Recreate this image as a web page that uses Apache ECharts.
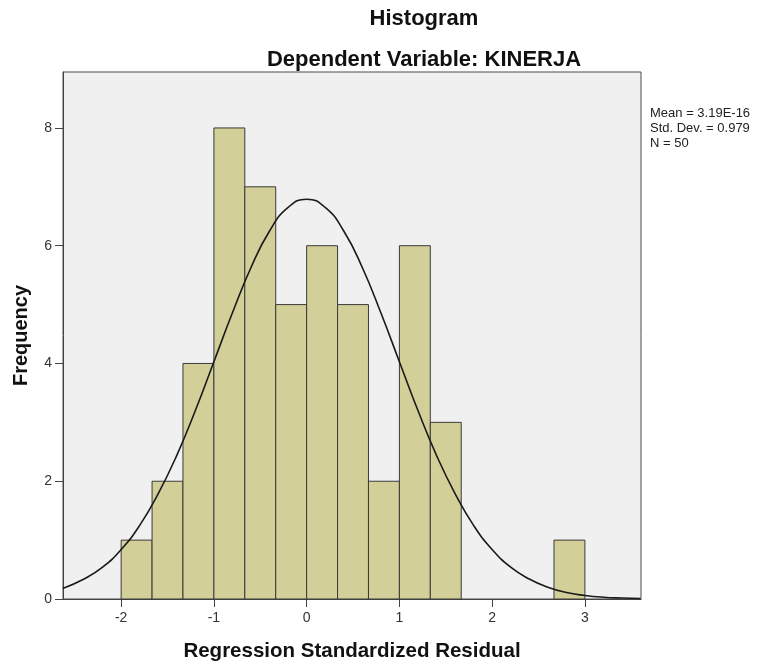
<!DOCTYPE html>
<html><head><meta charset="utf-8">
<script src="https://cdn.jsdelivr.net/npm/echarts@6/dist/echarts.min.js"></script>
<style>html,body{margin:0;padding:0;background:#fff}#c{width:768px;height:664px}</style>
</head><body><div id="c"></div>
<script>
// Histogram bins (left edge, right edge) and frequencies
const binStart = [-2, -5/3, -4/3, -1, -2/3, -1/3, 0, 1/3, 2/3, 1, 4/3, 8/3];
const binEnd   = [-5/3, -4/3, -1, -2/3, -1/3, 0, 1/3, 2/3, 1, 4/3, 5/3, 3];
const counts   = [1, 2, 4, 8, 7, 5, 6, 5, 2, 6, 3, 1];
// Normal curve, values
const curveX = [-2.63,-2.4,-2.2,-2.0,-1.8,-1.6,-1.4,-1.2,-1.0,-0.8,-0.6,-0.4,-0.2,0,0.2,0.4,0.6,0.8,1.0,1.2,1.4,1.6,1.8,2.0,2.2,2.4,2.6,2.8,3.0,3.2,3.4,3.6];
const curveY = [0.18,0.34,0.54,0.84,1.25,1.79,2.44,3.20,4.03,4.86,5.63,6.25,6.65,6.79,6.65,6.25,5.63,4.86,4.03,3.20,2.44,1.79,1.25,0.84,0.54,0.34,0.20,0.11,0.06,0.03,0.016,0.008];
const xTicks = [-2, -1, 0, 1, 2, 3];
const yTicks = [0, 2, 4, 6, 8];
const statsText = ['Mean = 3.19E-16', 'Std. Dev. = 0.979', 'N = 50'];

const chart = echarts.init(document.getElementById('c'), null, {renderer: 'canvas'});
const F = 'Liberation Sans, Arial, sans-serif';
chart.setOption({
  animation: false,
  backgroundColor: '#ffffff',
  title: [
    {text: 'Histogram', left: 419, top: 3, textAlign: 'center',
     textStyle: {fontFamily: F, fontSize: 22, fontWeight: 'bold', color: '#111'}},
    {text: 'Dependent Variable: KINERJA', left: 419, top: 44, textAlign: 'center',
     textStyle: {fontFamily: F, fontSize: 22, fontWeight: 'bold', color: '#111'}}
  ],
  graphic: [{
    type: 'text', left: 650, top: 106,
    style: {text: statsText.join('\n'), font: '13px ' + F, fill: '#222', lineHeight: 15}
  }],
  grid: {left: 63, right: 127, top: 72, bottom: 65, show: true, containLabel: false,
         outerBoundsMode: 'none',
         backgroundColor: '#f0f0f0', borderColor: '#4a4a4a', borderWidth: 1},
  xAxis: {
    type: 'value', min: -2.627, max: 3.605,
    name: 'Regression Standardized Residual', nameLocation: 'middle', nameGap: 42,
    nameTextStyle: {fontFamily: F, fontSize: 20.5, fontWeight: 'bold', color: '#111'},
    axisLine: {show: true, onZero: false, lineStyle: {color: '#444'}},
    axisTick: {show: true, length: 8, customValues: xTicks, lineStyle: {color: '#444'}},
    axisLabel: {customValues: xTicks, fontFamily: F, fontSize: 14, color: '#333', margin: 12},
    splitLine: {show: false}
  },
  yAxis: {
    type: 'value', min: 0, max: 8.95,
    name: 'Frequency', nameLocation: 'middle', nameGap: 32,
    nameTextStyle: {fontFamily: F, fontSize: 20, fontWeight: 'bold', color: '#111'},
    axisLine: {show: true, onZero: false, lineStyle: {color: '#444'}},
    axisTick: {show: true, length: 8, customValues: yTicks, lineStyle: {color: '#444'}},
    axisLabel: {customValues: yTicks, fontFamily: F, fontSize: 14, color: '#333', margin: 11},
    splitLine: {show: false}
  },
  series: [
    {
      type: 'custom',
      data: counts.map((c, i) => [binStart[i], binEnd[i], c]),
      renderItem: function (params, api) {
        const p0 = api.coord([api.value(0), api.value(2)]);
        const p1 = api.coord([api.value(1), 0]);
        return {
          type: 'rect',
          shape: {x: p0[0], y: p0[1], width: p1[0] - p0[0], height: p1[1] - p0[1]},
          style: {fill: '#d3cf98', stroke: '#3a3a3a', lineWidth: 1}
        };
      },
      encode: {x: [0, 1], y: 2},
      z: 2
    },
    {
      type: 'line', smooth: true, showSymbol: false,
      data: curveX.map((x, i) => [x, curveY[i]]),
      lineStyle: {color: '#1a1a1a', width: 1.6},
      z: 3
    }
  ]
});
</script></body></html>
